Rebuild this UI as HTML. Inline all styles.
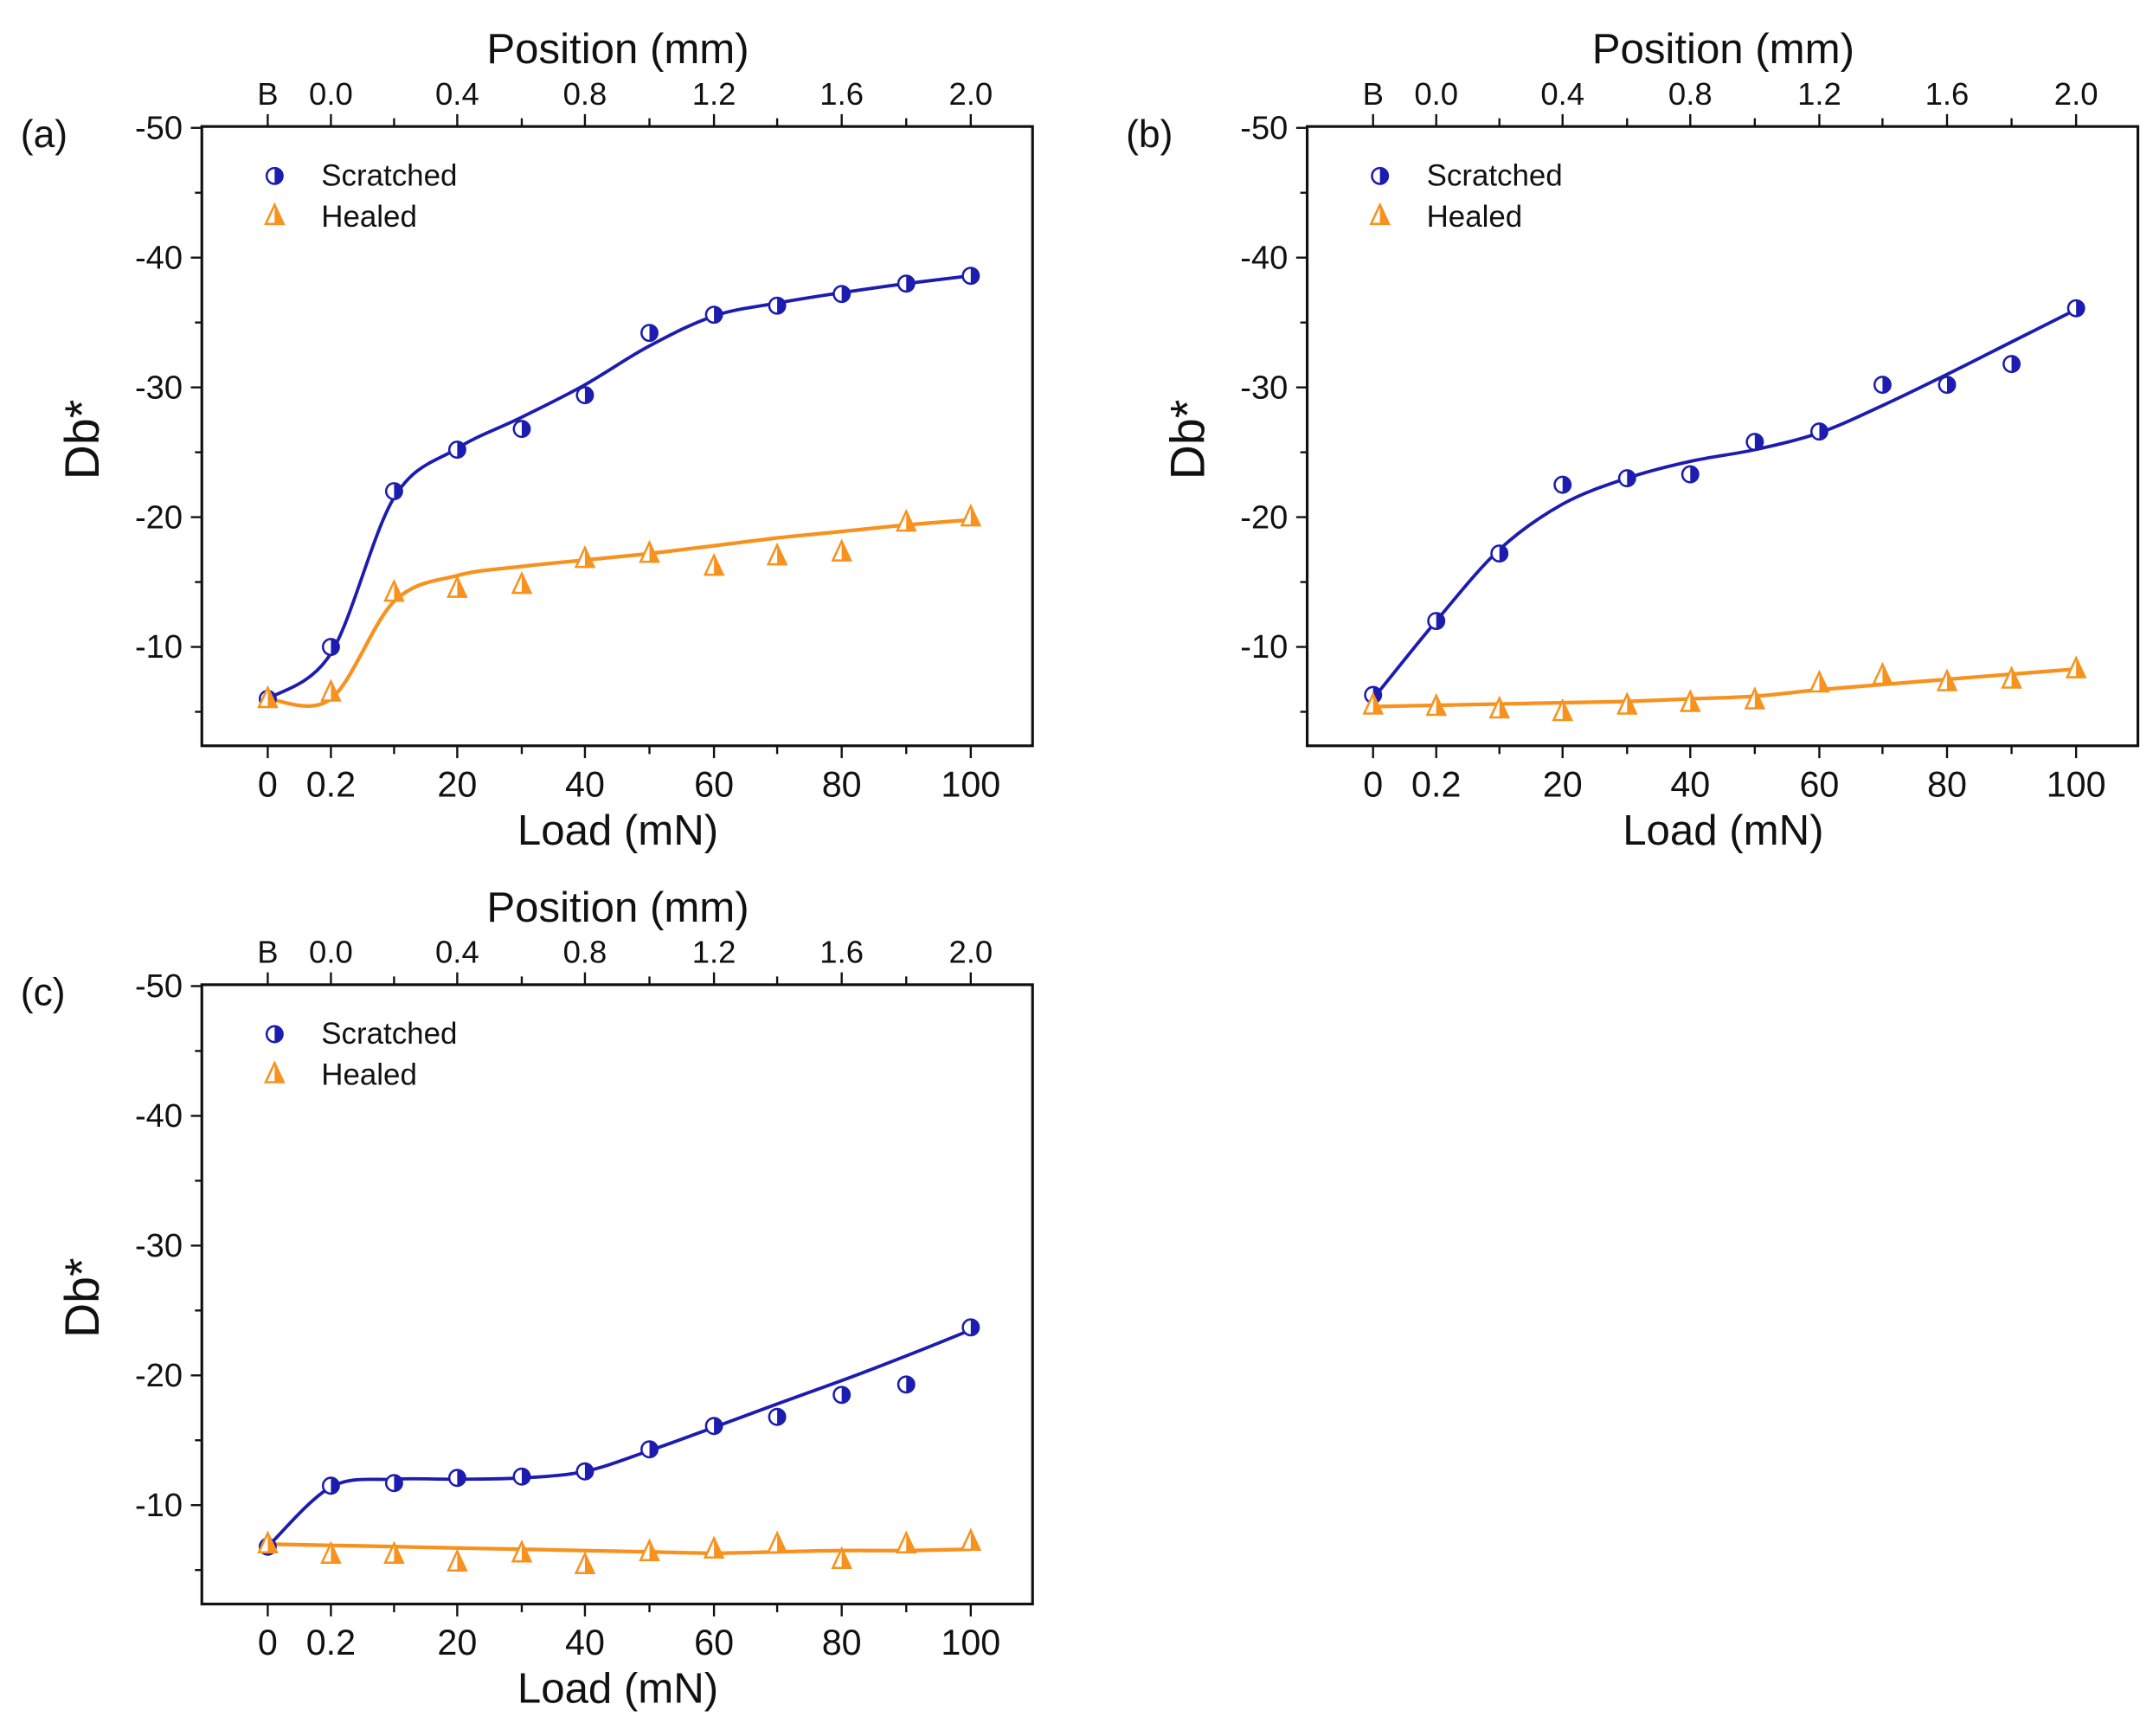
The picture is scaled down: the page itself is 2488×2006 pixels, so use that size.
<!DOCTYPE html>
<html><head><meta charset="utf-8"><style>
html,body{margin:0;padding:0;background:#fff}
svg{display:block}
text{font-family:"Liberation Sans",sans-serif;fill:#111}
</style></head><body>
<svg id="s" width="2488" height="2006" viewBox="0 0 1568 1264" xmlns="http://www.w3.org/2000/svg"></svg>
<script>
const NS="http://www.w3.org/2000/svg";
const svg=document.getElementById('s');
let out='';
const BL='#1c1cb0', OR='#f7921e';
const XS=[195,241,287,333,380,426,473,520,566,613,660,707];
function cr(pts){let d='M'+pts[0][0]+','+pts[0][1];
 for(let i=0;i<pts.length-1;i++){const p0=pts[Math.max(0,i-1)],p1=pts[i],p2=pts[i+1],p3=pts[Math.min(pts.length-1,i+2)];
 const c1=[p1[0]+(p2[0]-p0[0])/6,p1[1]+(p2[1]-p0[1])/6],c2=[p2[0]-(p3[0]-p1[0])/6,p2[1]-(p3[1]-p1[1])/6];
 d+=` C${c1[0].toFixed(1)},${c1[1].toFixed(1)} ${c2[0].toFixed(1)},${c2[1].toFixed(1)} ${p2[0]},${p2[1].toFixed(1)}`;}return d;}
function panel(dx,dy,lab,sc,he,scC,heC){
 const Y=v=>dy+93+(v+50)*9.45, X=i=>dx+XS[i];
 const L=dx+147,R=dx+752,T=dy+92,B=dy+543;
 out+=`<rect x="${L}" y="${T}" width="${R-L}" height="${B-T}" fill="none" stroke="#111" stroke-width="2"/>`;
 for(let v=-50;v<=-5;v+=5){const y=Y(v);out+=`<line x1="${L-(v%10==0?8:5)}" y1="${y}" x2="${L}" y2="${y}" stroke="#111" stroke-width="1.5"/>`;
  if(v%10==0)out+=`<text x="${L-14}" y="${y+8}" font-size="24" text-anchor="end">${v}</text>`;}
 for(let i=0;i<12;i++){const x=X(i),big=[0,1,3,5,7,9,11].includes(i);
  out+=`<line x1="${x}" y1="${B}" x2="${x}" y2="${B+(big?9:6)}" stroke="#111" stroke-width="1.5"/><line x1="${x}" y1="${T}" x2="${x}" y2="${T-(big?9:6)}" stroke="#111" stroke-width="1.5"/>`;}
 const bl=['0','0.2','20','40','60','80','100'],tl=['B','0.0','0.4','0.8','1.2','1.6','2.0'];
 [0,1,3,5,7,9,11].forEach((i,k)=>{out+=`<text x="${X(i)}" y="${B+37}" font-size="26" text-anchor="middle">${bl[k]}</text><text x="${X(i)}" y="${T-16}" font-size="23" text-anchor="middle">${tl[k]}</text>`;});
 out+=`<text x="${dx+450}" y="${B+72}" font-size="31" text-anchor="middle">Load (mN)</text>`;
 out+=`<text x="${dx+450}" y="${T-46}" font-size="31" text-anchor="middle">Position (mm)</text>`;
 out+=`<text transform="translate(${dx+72},${dy+320}) rotate(-90)" font-size="35" text-anchor="middle">Db*</text>`;
 out+=`<text x="${dx+15}" y="${dy+107}" font-size="28">${lab}</text>`;
 out+=`<path d="${cr(scC.map((v,i)=>[X(i),Y(v)]))}" fill="none" stroke="${BL}" stroke-width="2.4"/>`;
 out+=`<path d="${cr(heC.map((v,i)=>[X(i),Y(v)]))}" fill="none" stroke="${OR}" stroke-width="2.7"/>`;
 const circ=(x,y)=>`<circle cx="${x}" cy="${y}" r="5.8" fill="#fff" stroke="${BL}" stroke-width="1.6"/><path d="M${x},${y-5.8} A5.8,5.8 0 0 1 ${x},${y+5.8}Z" fill="${BL}"/>`;
 const tri=(x,y)=>`<path d="M${x},${y-8} L${x+6.5},${y+6} L${x-6.5},${y+6}Z" fill="#fff" stroke="${OR}" stroke-width="1.6"/><path d="M${x},${y-8} L${x+6.5},${y+6} L${x},${y+6}Z" fill="${OR}"/>`;
 sc.forEach((v,i)=>out+=circ(X(i),Y(v)));
 he.forEach((v,i)=>out+=tri(X(i),Y(v)));
 out+=circ(dx+200,dy+128)+`<text x="${dx+234}" y="${dy+135}" font-size="22">Scratched</text>`;
 out+=tri(dx+200,dy+157)+`<text x="${dx+234}" y="${dy+165}" font-size="22">Healed</text>`;
}
panel(0,0,'(a)',
 [-6,-10,-22,-25.2,-26.8,-29.4,-34.2,-35.6,-36.3,-37.2,-38,-38.6],
 [-6,-6.5,-14.2,-14.5,-14.8,-16.8,-17.2,-16.2,-17,-17.3,-19.6,-20],
 [-6,-9.5,-21.5,-25.3,-27.7,-30.2,-33.2,-35.5,-36.5,-37.3,-38,-38.6],
 [-6,-6.0,-13.5,-15.5,-16.2,-16.7,-17.2,-17.8,-18.4,-18.9,-19.4,-19.8]);
panel(805,0,'(b)',
 [-6.3,-12,-17.2,-22.5,-23,-23.3,-25.8,-26.6,-30.2,-30.2,-31.8,-36.1],
 [-5.5,-5.4,-5.2,-5.0,-5.5,-5.7,-5.9,-7.2,-7.8,-7.3,-7.5,-8.3],
 [-6,-12,-17.5,-21,-23,-24.3,-25.2,-26.5,-28.6,-31,-33.5,-36],
 [-5.4,-5.5,-5.6,-5.7,-5.8,-6.0,-6.2,-6.7,-7.1,-7.5,-7.9,-8.3]);
panel(0,625,'(c)',
 [-6.8,-11.5,-11.7,-12.1,-12.2,-12.6,-14.3,-16.1,-16.8,-18.5,-19.3,-23.7],
 [-7,-6.2,-6.2,-5.6,-6.3,-5.4,-6.4,-6.6,-7,-5.8,-7,-7.2],
 [-6.8,-11.4,-12,-12,-12.1,-12.6,-14.2,-16,-17.8,-19.6,-21.5,-23.5],
 [-7,-6.9,-6.8,-6.7,-6.6,-6.5,-6.4,-6.3,-6.4,-6.5,-6.5,-6.6]);
svg.innerHTML=out;
</script>
</body></html>
